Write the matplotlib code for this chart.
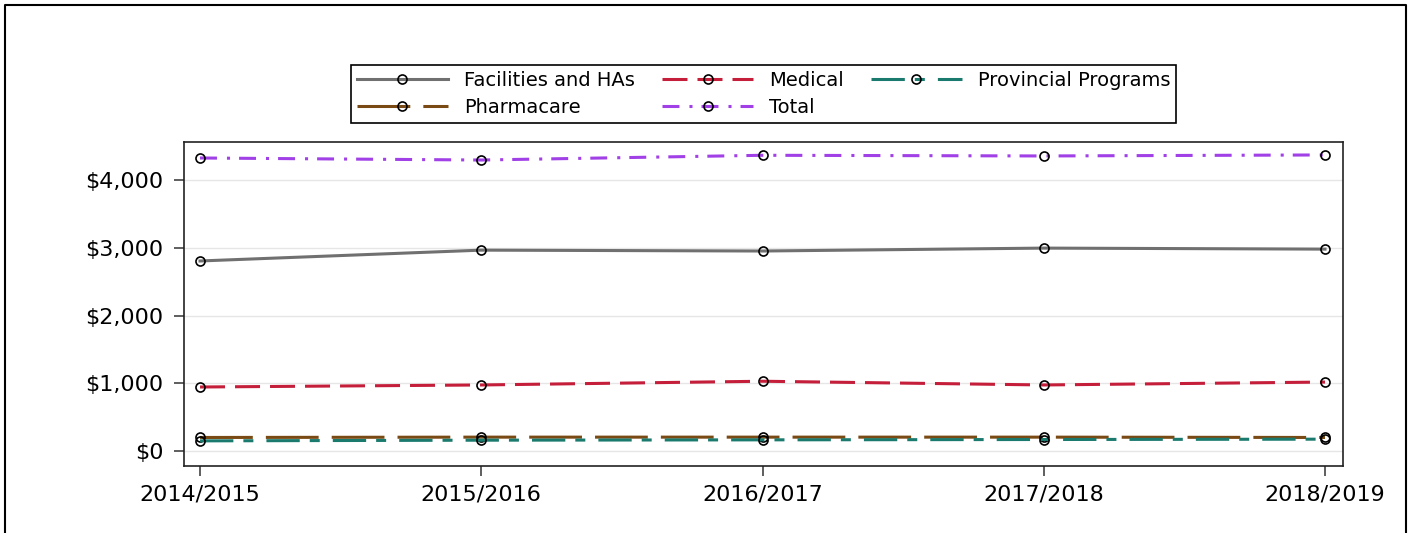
import matplotlib

matplotlib.use("Agg")
import matplotlib.pyplot as plt
from matplotlib.lines import Line2D
from matplotlib.ticker import FuncFormatter, MultipleLocator

# spending by fiscal year, millions of dollars
YEARS = ["2014/2015", "2015/2016", "2016/2017", "2017/2018", "2018/2019"]
FACILITIES = [2805, 2965, 2952, 2995, 2980]
MEDICAL = [945, 975, 1030, 975, 1018]
PHARMACARE = [200, 205, 205, 205, 200]
PROVINCIAL = [150, 160, 165, 170, 175]
TOTAL = [4325, 4295, 4365, 4355, 4370]

plt.rcParams["font.family"] = ["DejaVu Sans"]
plt.rcParams["lines.scale_dashes"] = False

fig = plt.figure(figsize=(14.11, 5.33), dpi=100)
ax = fig.add_axes([184 / 1411, 1 - 466 / 533, (1343 - 184) / 1411, (466 - 142) / 533])

x = list(range(len(YEARS)))
common = dict(lw=2.2, marker="o", markersize=6.5, markerfacecolor="none",
              markeredgecolor="black", markeredgewidth=1.2)

series = [
    ("Facilities and HAs", FACILITIES, "#707070", None),
    ("Medical", MEDICAL, "#c41e3a", (18, 7.2)),
    ("Pharmacare", PHARMACARE, "#7a4a14", (38, 9.4)),
    ("Provincial Programs", PROVINCIAL, "#1a7a6e", (24, 7.2, 7.2, 9.4)),
    ("Total", TOTAL, "#a040e6", (12.2, 7.2, 2.2, 6.5)),
]

handles = {}
for name, vals, color, dashes in series:
    (ln,) = ax.plot(x, vals, color=color, label=name, **common)
    if dashes is not None:
        ln.set_dashes(dashes)
    handles[name] = ln

ax.set_xlim(-0.057, 4.064)
ax.set_ylim(-221, 4561)
ax.set_xticks(x)
ax.set_xticklabels(YEARS)
ax.yaxis.set_major_locator(MultipleLocator(1000))
ax.yaxis.set_major_formatter(FuncFormatter(lambda v, _: f"${v:,.0f}"))
ax.grid(axis="y", color="#e6e6e6", lw=1)
ax.set_axisbelow(True)

ax.tick_params(axis="both", labelsize=16, length=7.5, width=1.1, color="#333333")
ax.tick_params(axis="x", pad=5.5)
ax.tick_params(axis="y", pad=7.5)
for sp in ax.spines.values():
    sp.set_color("#222222")
    sp.set_linewidth(1.2)

order = ["Facilities and HAs", "Pharmacare", "Medical", "Total", "Provincial Programs"]
leg = fig.legend(
    [handles[k] for k in order], order,
    loc="center", bbox_to_anchor=(763.5 / 1411, 1 - 94 / 533),
    ncol=3, fontsize=14, handlelength=4.7, handletextpad=0.8,
    columnspacing=1.4, borderpad=0.3, labelspacing=0.42,
    borderaxespad=0, frameon=True, fancybox=False, framealpha=1,
)
leg.get_frame().set_edgecolor("black")
leg.get_frame().set_linewidth(1.2)

# outer frame, open at the bottom
fig.add_artist(Line2D([4.5, 4.5, 1405.5, 1405.5], [0, 528.5, 528.5, 0],
                      transform=None, color="black", lw=1.5))

fig.savefig("out.png", dpi=100)
